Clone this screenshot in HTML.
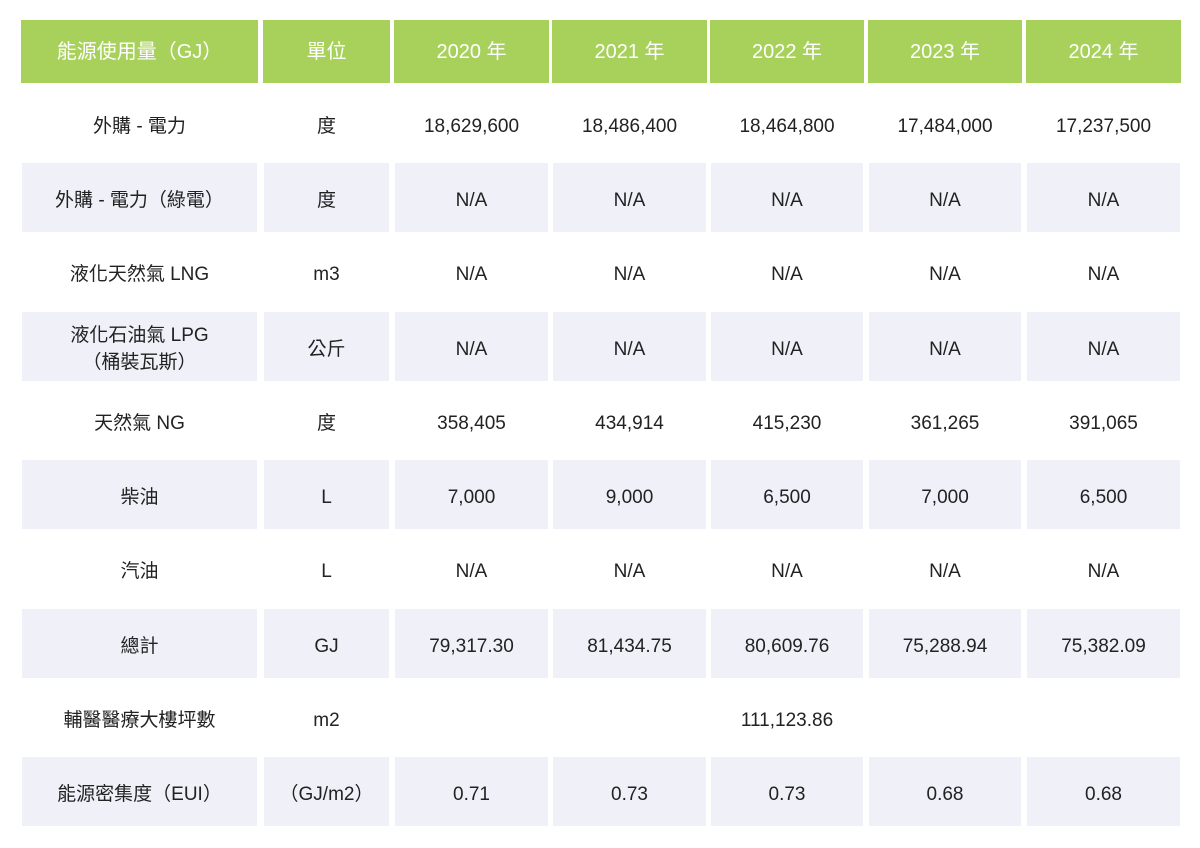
<!DOCTYPE html>
<html><head><meta charset="utf-8"><style>
body{margin:0;width:1200px;height:848px;background:#fff;position:relative;overflow:hidden;font-family:"Liberation Sans","Noto Sans CJK TC",sans-serif;}
.c{position:absolute;display:flex;align-items:center;justify-content:center;text-align:center;font-size:19px;color:#222;line-height:1.4;box-sizing:border-box;}
.h{background:#a8d15c;color:#fff;font-size:20px;padding-top:1px;}
.b{padding-top:7px;}
.s{background:#eff0f8;}
</style></head><body>
<script>
const xs=[[21,258],[263,390],[394,549],[552,707],[710,864],[868,1022],[1026,1181]];
const head=["能源使用量（GJ）","單位","2020 年","2021 年","2022 年","2023 年","2024 年"];
const rows=[
["外購 - 電力","度","18,629,600","18,486,400","18,464,800","17,484,000","17,237,500"],
["外購 - 電力（綠電）","度","N/A","N/A","N/A","N/A","N/A"],
["液化天然氣 LNG","m3","N/A","N/A","N/A","N/A","N/A"],
["液化石油氣 LPG<br>（桶裝瓦斯）","公斤","N/A","N/A","N/A","N/A","N/A"],
["天然氣 NG","度","358,405","434,914","415,230","361,265","391,065"],
["柴油","L","7,000","9,000","6,500","7,000","6,500"],
["汽油","L","N/A","N/A","N/A","N/A","N/A"],
["總計","GJ","79,317.30","81,434.75","80,609.76","75,288.94","75,382.09"],
["輔醫醫療大樓坪數","m2","","","111,123.86","",""],
["能源密集度（EUI）","（GJ/m2）","0.71","0.73","0.73","0.68","0.68"]];
let h="";
head.forEach((t,i)=>{h+=`<div class="c h" style="left:${xs[i][0]}px;top:20px;width:${xs[i][1]-xs[i][0]}px;height:63px">${t}</div>`;});
rows.forEach((r,k)=>{const top=Math.round(88.75+74.25*k);const s=k%2==1?" s":"";
r.forEach((t,i)=>{h+=`<div class="c b${s}" style="left:${xs[i][0]+1}px;top:${top}px;width:${xs[i][1]-xs[i][0]-2}px;height:69px">${t}</div>`;});});
document.body.innerHTML=h;
</script>
</body></html>
